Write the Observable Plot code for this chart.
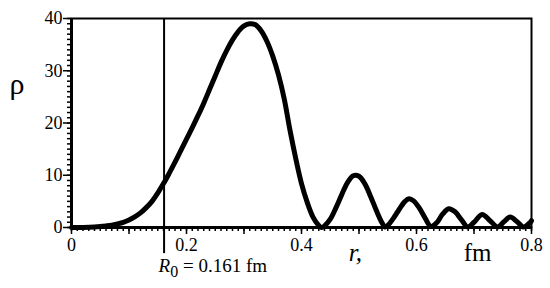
<!DOCTYPE html>
<html><head><meta charset="utf-8">
<script src="https://cdn.jsdelivr.net/npm/d3@7"></script>
<script src="https://cdn.jsdelivr.net/npm/@observablehq/plot@0.6"></script>
<style>body{margin:0;background:#fff} svg{display:block}</style>
</head><body><div id="chart"></div>
<script>
const rValues = [0, 0.02, 0.04, 0.05, 0.06, 0.07, 0.08, 0.09, 0.10, 0.11, 0.12, 0.13, 0.14, 0.15, 0.16, 0.17, 0.18, 0.19, 0.20, 0.21, 0.22, 0.23, 0.24, 0.25, 0.26, 0.27, 0.28, 0.29, 0.30, 0.31, 0.32, 0.33, 0.34, 0.35, 0.36, 0.37, 0.38, 0.39, 0.40, 0.41, 0.42, 0.43, 0.435, 0.44, 0.45, 0.46, 0.47, 0.48, 0.49, 0.50, 0.51, 0.52, 0.53, 0.54, 0.545, 0.55, 0.56, 0.57, 0.58, 0.587, 0.595, 0.605, 0.615, 0.625, 0.635, 0.645, 0.656, 0.667, 0.678, 0.689, 0.70, 0.714, 0.728, 0.741, 0.752, 0.763, 0.775, 0.786, 0.798, 0.80];
const rhoValues = [0, 0.02, 0.1, 0.18, 0.3, 0.45, 0.7, 1.0, 1.45, 2.05, 2.8, 3.8, 5.0, 6.6, 8.4, 10.4, 12.5, 14.7, 16.9, 19.1, 21.4, 23.8, 26.4, 29.0, 31.6, 33.9, 35.9, 37.5, 38.6, 39.0, 38.8, 37.6, 35.6, 32.8, 29.2, 24.6, 18.6, 13.2, 8.4, 4.8, 2.0, 0.4, 0.0, 0.3, 1.6, 3.8, 6.3, 8.6, 9.9, 9.8, 8.4, 6.0, 3.3, 0.9, 0.1, 0.4, 1.8, 3.5, 5.0, 5.5, 5.1, 3.7, 1.8, 0.2, 0.9, 2.5, 3.6, 3.0, 1.5, 0.1, 1.0, 2.5, 1.3, 0.1, 1.1, 2.0, 1.1, 0.1, 1.0, 1.3];
const xTickLabels = [0, 0.2, 0.4, 0.6, 0.8];
const xMajorTicks = [0, 0.1, 0.2, 0.3, 0.4, 0.5, 0.6, 0.7, 0.8];
const xMinorTicks = d3.range(0, 81).map(i => i / 100);
const yTickLabels = [0, 10, 20, 30, 40];
const yMinorTicks = d3.range(0, 41);
const R0 = 0.161;
const R0LineBottom = -5;

const data = rValues.map((r, i) => ({r, rho: rhoValues[i]}));
const serif = "'Liberation Serif'";

const chart = Plot.plot({
  width: 550, height: 288,
  marginLeft: 71, marginRight: 19, marginTop: 18, marginBottom: 61,
  style: {background: "#fff", color: "#000"},
  x: {domain: [0, 0.8]},
  y: {domain: [0, 40]},
  marks: [
    Plot.axisX(xMinorTicks, {tickSize: 4, strokeWidth: 1.5, tickFormat: () => "", label: null}),
    Plot.axisX(xMajorTicks, {tickSize: 7, strokeWidth: 1.5, tickFormat: () => "", label: null}),
    Plot.axisX(xTickLabels, {tickSize: 0, tickPadding: 11, fontSize: 18, tickFormat: d => d === 0 ? "0" : d.toFixed(1), label: null}),
    Plot.axisY(yMinorTicks, {tickSize: 4, strokeWidth: 1.5, tickFormat: () => "", label: null}),
    Plot.axisY(yTickLabels, {tickSize: 8, strokeWidth: 1.5, tickPadding: 1, fontSize: 18, label: null}),
    Plot.frame({strokeWidth: 2}),
    Plot.ruleY([0], {strokeWidth: 3}),
    Plot.ruleX([0], {strokeWidth: 3}),
    Plot.ruleX([R0], {y1: R0LineBottom, y2: 40, strokeWidth: 2}),
    Plot.line(data, {x: "r", y: "rho", strokeWidth: 5, curve: "catmull-rom", strokeLinejoin: "round", strokeLinecap: "round"})
  ]
});
document.getElementById("chart").appendChild(chart);

const sx = chart.scale("x"), sy = chart.scale("y");
const svg = d3.select(chart);
const bottom = sy.apply(0);
svg.append("text").attr("x", 17).attr("y", sy.apply(25.5)).attr("text-anchor", "middle")
  .attr("font-size", 30).text("ρ");
svg.append("text").attr("x", sx.apply(0.483)).attr("y", bottom + 34).attr("text-anchor", "start")
  .attr("font-size", 25).attr("font-style", "italic").text("r,");
svg.append("text").attr("x", sx.apply(0.683)).attr("y", bottom + 34).attr("text-anchor", "start")
  .attr("font-size", 25).text("fm");
const t = svg.append("text").attr("x", sx.apply(R0) - 5).attr("y", bottom + 45).attr("text-anchor", "start")
  .attr("font-size", 19);
t.append("tspan").attr("font-style", "italic").text("R");
t.append("tspan").attr("dy", 5).attr("font-size", 16).text("0");
t.append("tspan").attr("dy", -5).text(" = " + R0 + " fm");
svg.attr("font-family", null);
svg.selectAll("text, g").style("font-family", serif);
svg.style("font-family", serif);
</script>
</body></html>
